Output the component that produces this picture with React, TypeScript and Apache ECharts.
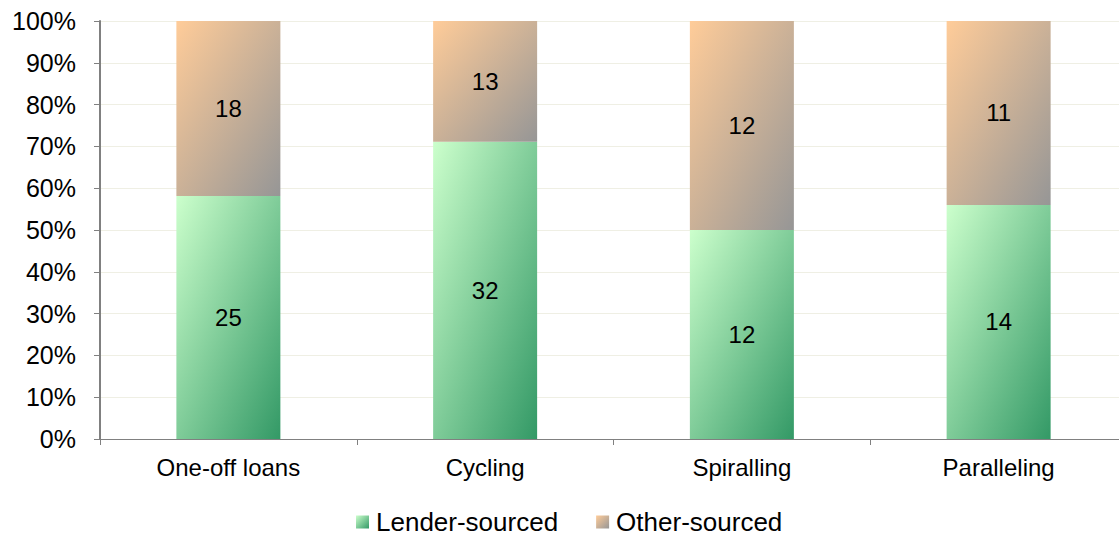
import React, { useEffect, useRef } from "react";
import * as echarts from "echarts";

const categories = ["One-off loans", "Cycling", "Spiralling", "Paralleling"];
const lenderCounts = [25, 32, 12, 14];
const otherCounts = [18, 13, 12, 11];
const yTicks = [0, 10, 20, 30, 40, 50, 60, 70, 80, 90, 100];

export default function App() {
  const ref = useRef<HTMLDivElement>(null);
  useEffect(() => {
    if (!ref.current) return;
    const chart = echarts.init(ref.current, null, { renderer: "svg" });
    const totals = lenderCounts.map((v, i) => v + otherCounts[i]);
    const lenderPct = lenderCounts.map((v, i) => (v / totals[i]) * 100);
    const otherPct = otherCounts.map((v, i) => (v / totals[i]) * 100);
    const greenGrad = new echarts.graphic.LinearGradient(0, 0, 1, 1, [
      { offset: 0, color: "#ccffcc" },
      { offset: 1, color: "#339966" },
    ]);
    const orangeGrad = new echarts.graphic.LinearGradient(0, 0, 1, 1, [
      { offset: 0, color: "#ffcc99" },
      { offset: 1, color: "#969696" },
    ]);
    const font = "Liberation Sans, Arial, sans-serif";
    chart.setOption({
      animation: false,
      textStyle: { fontFamily: font },
      grid: {
        left: 100,
        width: 1027,
        top: 21,
        bottom: 98,
        containLabel: false,
        outerBoundsMode: "none",
      },
      legend: {
        top: 509,
        left: 356,
        padding: 0,
        itemWidth: 13,
        itemHeight: 13,
        itemGap: 38,
        icon: "rect",
        textStyle: {
          fontSize: 26,
          lineHeight: 26,
          color: "#000",
          fontFamily: font,
          padding: [0, 0, 0, 2],
        },
        data: ["Lender-sourced", "Other-sourced"],
      },
      xAxis: {
        type: "category",
        data: categories,
        axisLine: { lineStyle: { color: "#808080", width: 1 } },
        axisTick: { show: true, length: 6, lineStyle: { color: "#808080" } },
        axisLabel: { fontSize: 24, color: "#000", margin: 16, fontFamily: font },
      },
      yAxis: {
        type: "value",
        min: yTicks[0],
        max: yTicks[yTicks.length - 1],
        interval: 10,
        axisLine: { show: true, lineStyle: { color: "#808080", width: 2 } },
        axisTick: { show: true, length: 6, lineStyle: { color: "#808080" } },
        axisLabel: {
          fontSize: 25,
          color: "#000",
          margin: 24,
          fontFamily: font,
          formatter: (v: number) => `${v}%`,
        },
        splitLine: { show: true, lineStyle: { color: "#efefe4", width: 1 } },
      },
      series: [
        {
          name: "Lender-sourced",
          type: "bar",
          stack: "total",
          barWidth: 104,
          data: lenderPct,
          itemStyle: { color: greenGrad },
          label: {
            show: true,
            position: "inside",
            fontSize: 24,
            color: "#000",
            fontFamily: font,
            formatter: (p: any) => String(lenderCounts[p.dataIndex]),
          },
        },
        {
          name: "Other-sourced",
          type: "bar",
          stack: "total",
          barWidth: 104,
          data: otherPct,
          itemStyle: { color: orangeGrad },
          label: {
            show: true,
            position: "inside",
            fontSize: 24,
            color: "#000",
            fontFamily: font,
            formatter: (p: any) => String(otherCounts[p.dataIndex]),
          },
        },
      ],
    });
    return () => chart.dispose();
  }, []);
  return (
    <div
      ref={ref}
      style={{ position: "fixed", left: 0, top: 0, width: 1119, height: 537, background: "#fff" }}
    />
  );
}
